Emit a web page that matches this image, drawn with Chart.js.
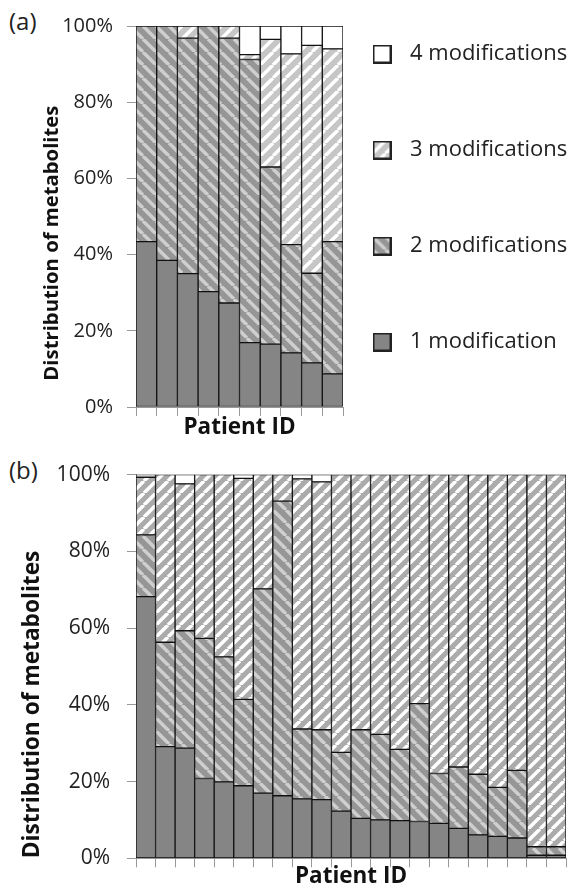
<!DOCTYPE html>
<html>
<head>
<meta charset="utf-8">
<script src="https://cdn.jsdelivr.net/npm/chart.js@4.4.1/dist/chart.umd.min.js"></script>
<style>
body { margin: 0; background: #fff; width: 574px; height: 891px; position: relative; overflow: hidden; font-family: "Open Sans", sans-serif; }
canvas { position: absolute; left: 0; }
#chartA { top: 0; }
#chartB { top: 445px; }
.panel { position: absolute; left: 9px; font-size: 24px; line-height: 1; color: #222; }
</style>
</head>
<body>
<div class="panel" style="top:9px">(a)</div>
<div class="panel" style="top:458px">(b)</div>
<canvas id="chartA" width="574" height="455"></canvas>
<canvas id="chartB" width="574" height="446"></canvas>
<script>
// series names (legend)
const seriesNames = ['1 modification', '2 modifications', '3 modifications', '4 modifications'];
const yTicks = [0, 20, 40, 60, 80, 100];

// panel (a) - 10 patients
const patientsA = ['1', '2', '3', '4', '5', '6', '7', '8', '9', '10'];
const oneModA = [43.4, 38.5, 35.0, 30.3, 27.3, 16.9, 16.5, 14.2, 11.6, 8.7];
const twoModA = [56.6, 61.5, 61.8, 69.7, 69.5, 74.3, 46.5, 28.4, 23.5, 34.7];
const threeModA = [0, 0, 3.2, 0, 3.2, 1.3, 33.5, 50.1, 59.8, 50.6];
const fourModA = [0, 0, 0, 0, 0, 7.5, 3.5, 7.3, 5.1, 6.0];

// panel (b) - 22 patients
const patientsB = ['1', '2', '3', '4', '5', '6', '7', '8', '9', '10', '11', '12', '13', '14', '15', '16', '17', '18', '19', '20', '21', '22'];
const oneModB = [68.2, 29.1, 28.7, 20.8, 19.9, 18.9, 17.0, 16.3, 15.5, 15.3, 12.3, 10.4, 10.0, 9.8, 9.6, 9.1, 7.8, 6.1, 5.7, 5.3, 0.8, 0.8];
const twoModB = [16.1, 27.2, 30.6, 36.5, 32.6, 22.5, 53.2, 76.8, 18.2, 18.2, 15.3, 23.1, 22.3, 18.6, 30.7, 13.0, 16.0, 15.8, 12.8, 17.6, 2.2, 2.2];
const threeModB = [15.0, 43.7, 38.3, 42.7, 47.5, 57.6, 29.8, 6.9, 65.2, 64.6, 72.4, 66.5, 67.7, 71.6, 59.7, 77.9, 76.2, 78.1, 81.5, 77.1, 97.0, 97.0];
const fourModB = [0.7, 0, 2.4, 0, 0, 1.0, 0, 0, 1.1, 1.9, 0, 0, 0, 0, 0, 0, 0, 0, 0, 0, 0, 0];

// diagonal stripe tile
function stripes(base, stripe, size, width, up) {
  const c = document.createElement('canvas');
  c.width = c.height = size;
  const g = c.getContext('2d');
  g.fillStyle = base;
  g.fillRect(0, 0, size, size);
  g.strokeStyle = stripe;
  g.lineWidth = width;
  g.beginPath();
  for (const k of [-size, 0, size]) {
    if (up) { g.moveTo(k, size); g.lineTo(k + size, 0); }
    else { g.moveTo(k, 0); g.lineTo(k + size, size); }
  }
  g.stroke();
  return c;
}

function legendIcon(fill) {
  const c = document.createElement('canvas');
  c.width = c.height = 19;
  const g = c.getContext('2d');
  g.fillStyle = '#222';
  g.fillRect(0, 0, 19, 19);
  g.fillStyle = typeof fill === 'string' ? fill : g.createPattern(fill, 'repeat');
  g.fillRect(2, 2, 15, 15);
  return c;
}

// the legend box of (a) is wider than chart.js lets a side box be by default
const wideLegend = {
  id: 'wideLegend',
  beforeLayout(chart, args, opts) {
    const lg = chart.legend;
    if (!lg || !opts.width || lg._wide) return;
    const up = lg.update.bind(lg);
    lg.update = (w, h, m) => { up(w, h, m); lg.width = opts.width; };
    lg._wide = true;
  }
};

const tile2 = stripes('#969696', '#cfcfcf', 13, 3.5, false);
const tile3a = stripes('#c6c6c6', '#ffffff', 13, 3.5, true);
const tile3b = stripes('#ababab', '#ffffff', 12, 3.5, true);

function makeChart(id, labels, series, tile3, opts) {
  const ctx = document.getElementById(id).getContext('2d');
  const fills = ['#858585', ctx.createPattern(tile2, 'repeat'), ctx.createPattern(tile3, 'repeat'), '#ffffff'];
  const datasets = series.map((d, i) => ({
    label: seriesNames[i],
    data: d,
    backgroundColor: fills[i],
    borderColor: '#111',
    borderWidth: 1,
    borderSkipped: false,
    barPercentage: 1,
    categoryPercentage: 1
  }));
  const icons = [legendIcon('#858585'), legendIcon(tile2), legendIcon(tile3), legendIcon('#ffffff')];

  return new Chart(ctx, {
    type: 'bar',
    data: { labels: labels, datasets: datasets },
    plugins: [wideLegend],
    options: {
      responsive: false,
      animation: false,
      layout: { padding: opts.padding },
      plugins: {
        tooltip: { enabled: false },
        wideLegend: { width: opts.legendWidth },
        legend: opts.legend ? {
          display: true,
          position: 'right',
          align: 'start',
          reverse: true,
          labels: {
            usePointStyle: true,
            pointStyleWidth: 34,
            padding: 22,
            color: '#222',
            font: { family: 'Open Sans', size: 22, lineHeight: '74px' },
            generateLabels: chart => Chart.defaults.plugins.legend.labels.generateLabels(chart).map(l => ({
              ...l, text: [l.text], pointStyle: icons[l.datasetIndex]
            }))
          }
        } : { display: false }
      },
      scales: {
        x: {
          stacked: true,
          afterFit: s => { s.height = opts.xHeight; },
          border: { color: '#999' },
          grid: { drawOnChartArea: false, tickLength: 9, color: '#999', offset: true },
          ticks: { display: false },
          title: {
            display: true, text: 'Patient ID', color: '#111',
            font: { family: 'Open Sans', size: 22.5, weight: 'bold' },
            padding: { top: 0, bottom: opts.xTitlePad }
          }
        },
        y: {
          stacked: true,
          min: 0, max: 100,
          afterFit: s => { s.width = 136; },
          afterBuildTicks: s => { s.ticks = yTicks.map(v => ({ value: v })); },
          border: { color: '#999' },
          grid: { drawOnChartArea: false, tickLength: 9, color: '#999' },
          ticks: {
            color: '#222', padding: opts.tickPad,
            font: { family: 'Open Sans', size: opts.tickSize },
            callback: v => v + '%'
          },
          title: {
            display: true, text: opts.yTitle, align: 'start', color: '#111',
            font: { family: 'Open Sans', size: opts.yTitleSize, weight: 'bold' },
            padding: { top: opts.yTitlePad, bottom: 0 }
          }
        }
      }
    }
  });
}

makeChart('chartA', patientsA, [oneModA, twoModA, threeModA, fourModA], tile3a, {
  padding: { top: 21, left: 0, right: 0, bottom: 0 },
  legend: true, legendWidth: 231, xHeight: 48, xTitlePad: 13.5, tickPad: 14, tickSize: 20,
  yTitle: '     Distribution of metabolites', yTitleSize: 20.3, yTitlePad: 40
});

makeChart('chartB', patientsB, [oneModB, twoModB, threeModB, fourModB], tile3b, {
  padding: { top: 20.7, left: 0, right: 8, bottom: 0 },
  legend: false, xHeight: 32.7, xTitlePad: 0.5, tickPad: 17, tickSize: 21,
  yTitle: 'Distribution of metabolites', yTitleSize: 22.7, yTitlePad: 19
});
</script>
</body>
</html>
